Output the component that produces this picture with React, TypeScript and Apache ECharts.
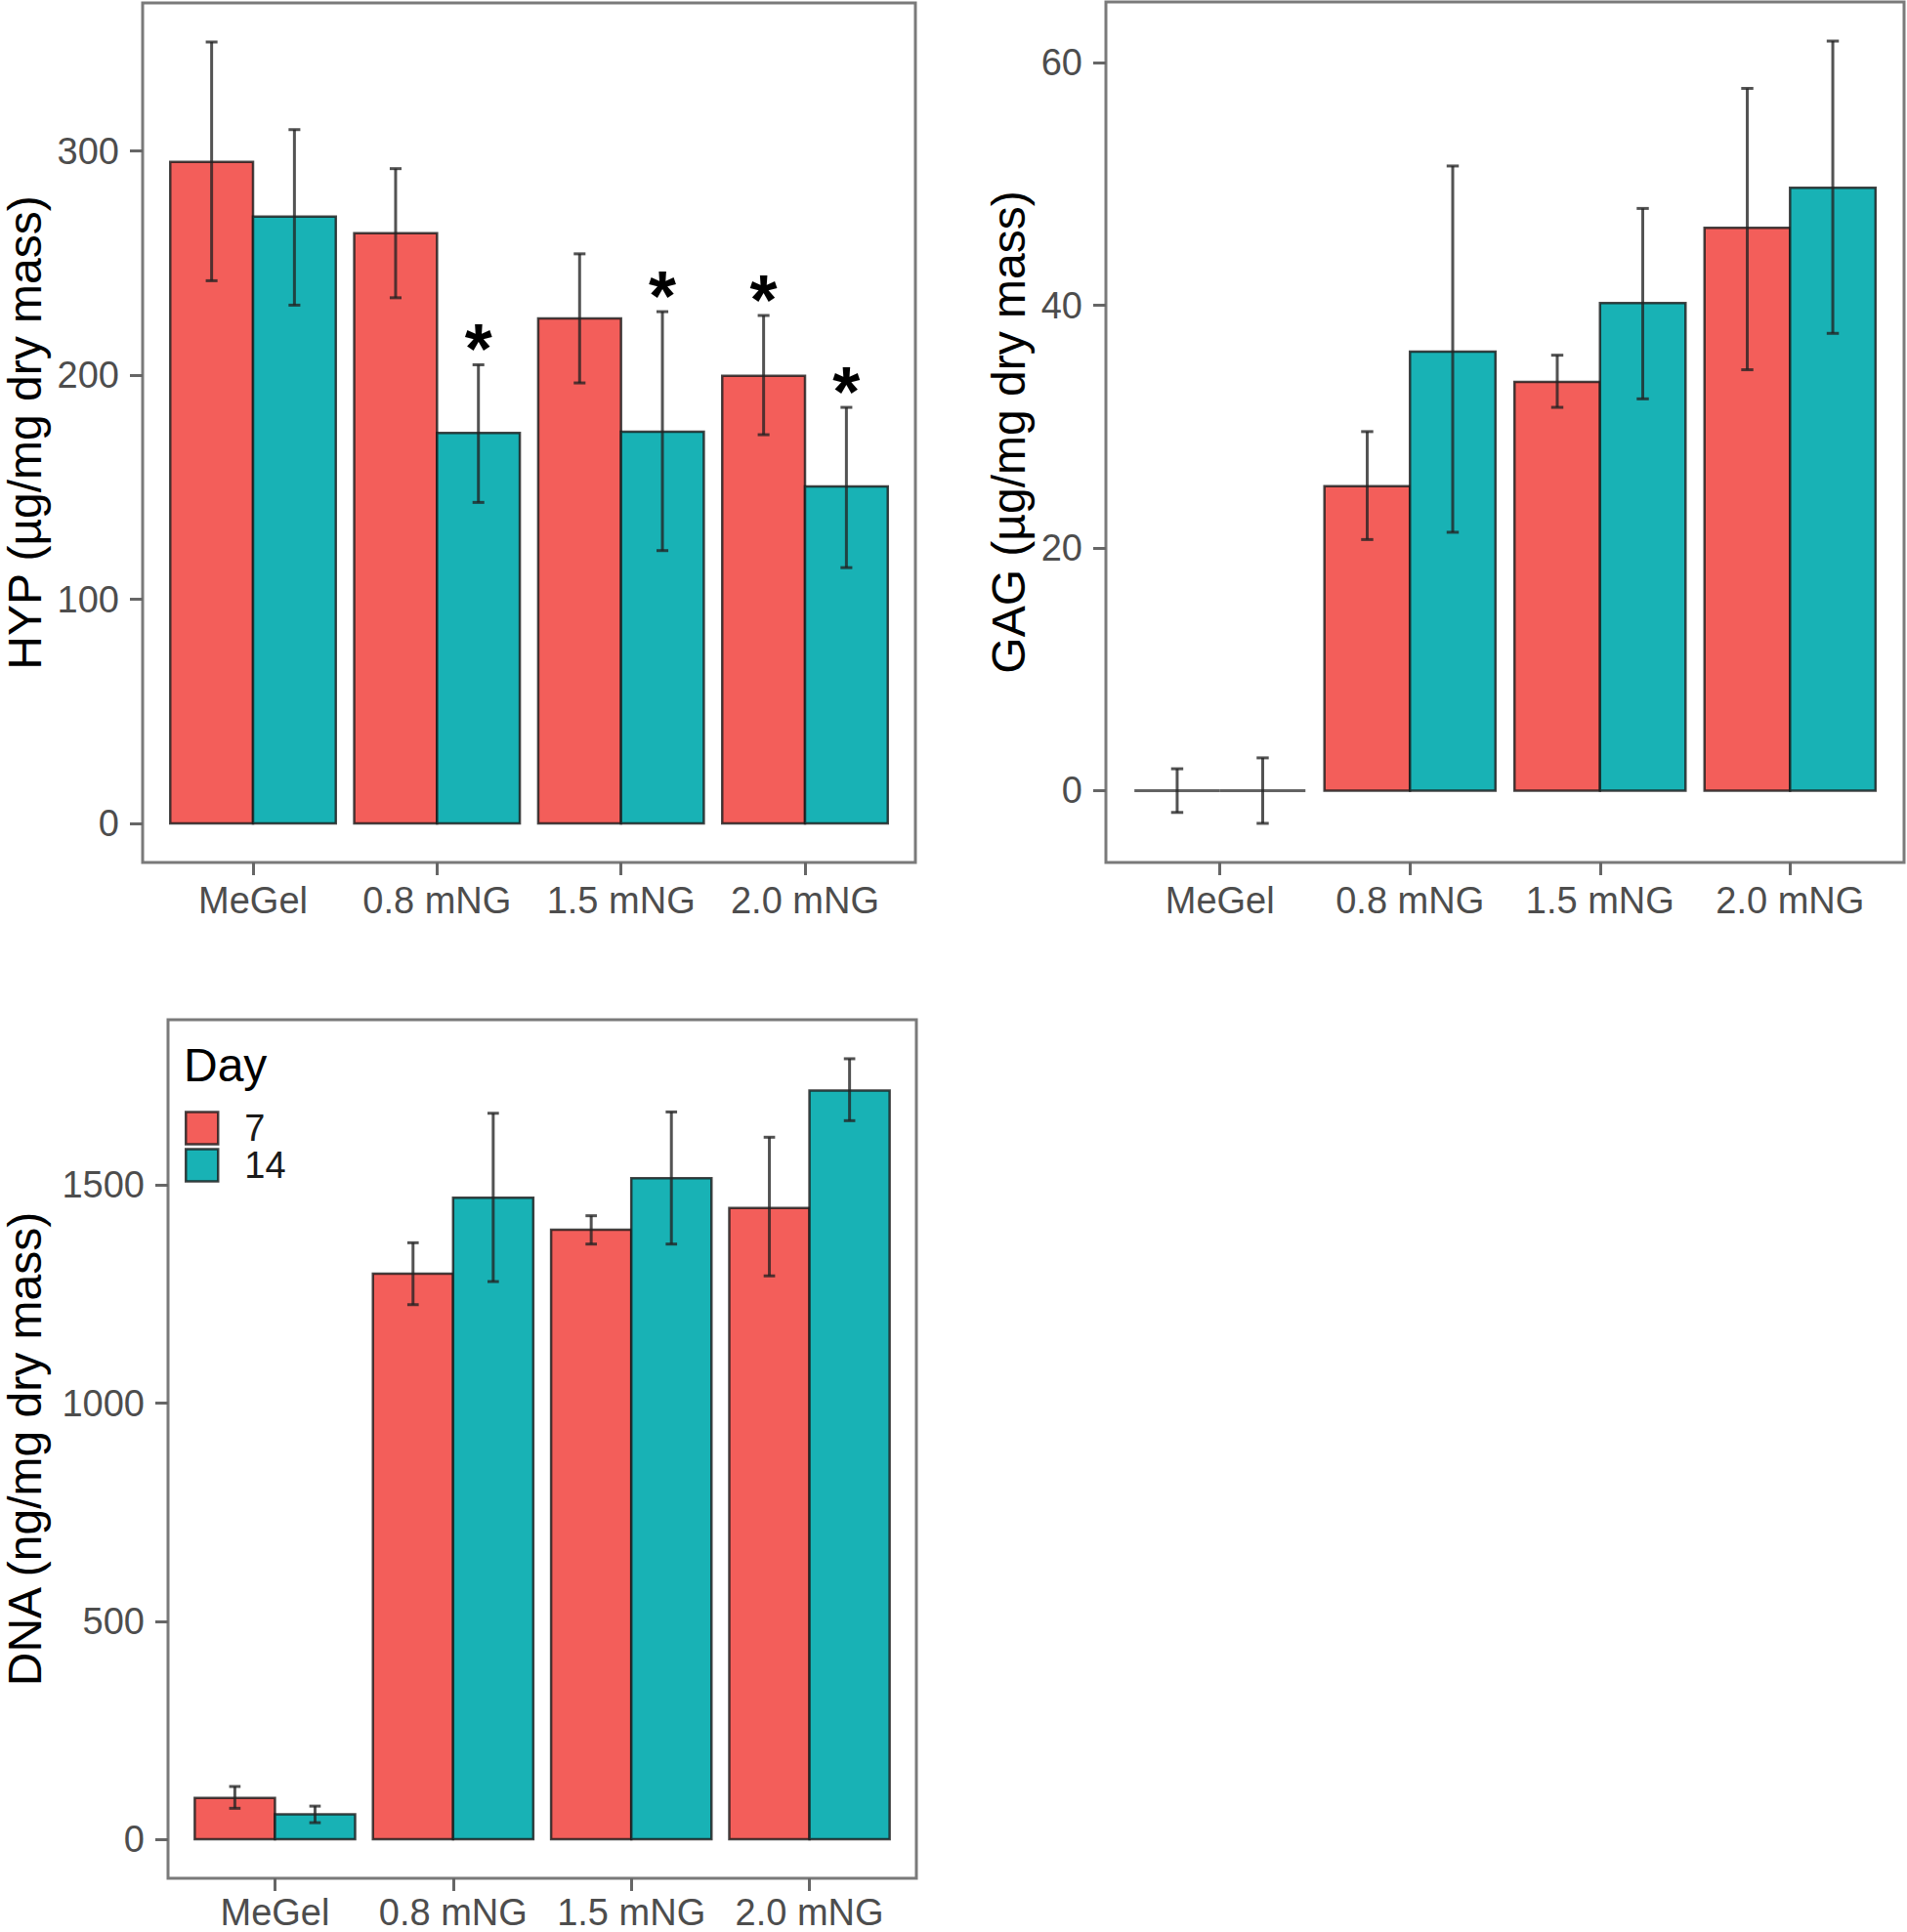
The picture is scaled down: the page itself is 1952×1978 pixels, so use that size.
import React, { useEffect, useRef } from "react";
import * as echarts from "echarts";

const categories = ["MeGel", "0.8 mNG", "1.5 mNG", "2.0 mNG"];

// HYP (µg/mg dry mass)
const hyp7 = [295.1, 263.3, 225.3, 199.7];
const hyp7Low = [242.1, 234.5, 196.5, 173.4];
const hyp7High = [348.6, 292.1, 254.1, 226.6];
const hyp14 = [270.7, 174.2, 174.7, 150.3];
const hyp14Low = [231.2, 143.2, 121.7, 114.1];
const hyp14High = [309.5, 204.6, 228.3, 185.6];
const hypSig7 = [false, false, false, true];
const hypSig14 = [false, true, true, true];
const hypTicks = [0, 100, 200, 300];

// GAG (µg/mg dry mass)
const gag7 = [0, 25.1, 33.7, 46.4];
const gag7Low = [-1.8, 20.7, 31.6, 34.7];
const gag7High = [1.8, 29.6, 35.9, 57.9];
const gag14 = [0, 36.2, 40.2, 49.7];
const gag14Low = [-2.7, 21.3, 32.3, 37.7];
const gag14High = [2.7, 51.5, 48.0, 61.8];
const gagTicks = [0, 20, 40, 60];

// DNA (ng/mg dry mass)
const dna7 = [95, 1297, 1398, 1448];
const dna7Low = [71, 1226, 1365, 1292];
const dna7High = [121, 1368, 1430, 1610];
const dna14 = [57, 1471, 1516, 1717];
const dna14Low = [38, 1279, 1365, 1648];
const dna14High = [76, 1665, 1668, 1790];
const dnaTicks = [0, 500, 1000, 1500];

const dayNames = ["7", "14"];

const RED = "#F35E5A";
const TEAL = "#18B2B5";
const BAR_BORDER = "rgba(25,25,25,0.8)";
const ERR = "rgba(35,35,35,0.78)";
const FONT = "'Liberation Sans', Arial, Helvetica, sans-serif";
const HALF = 0.225;
const CAP = 0.032;

function makeRender(offset: number, color: string, sig: boolean[] | null) {
  return (params: any, api: any) => {
    const x = api.value(0) + offset;
    const v = api.value(1);
    const lo = api.value(2);
    const hi = api.value(3);
    const pL = api.coord([x - HALF, v]);
    const pR = api.coord([x + HALF, v]);
    const p0 = api.coord([x - HALF, 0]);
    const children: any[] = [];
    if (v !== 0) {
      children.push({
        type: "rect",
        shape: {
          x: pL[0],
          y: Math.min(pL[1], p0[1]),
          width: pR[0] - pL[0],
          height: Math.abs(p0[1] - pL[1]),
        },
        style: { fill: color, stroke: BAR_BORDER, lineWidth: 2.5 },
      });
    } else {
      children.push({
        type: "line",
        shape: { x1: pL[0], y1: p0[1], x2: pR[0], y2: p0[1] },
        style: { stroke: "rgba(60,60,60,0.8)", lineWidth: 3 },
      });
    }
    const a = api.coord([x, lo]);
    const b = api.coord([x, hi]);
    const capPx = api.coord([x + CAP, 0])[0] - api.coord([x, 0])[0];
    children.push({
      type: "line",
      shape: { x1: a[0], y1: a[1], x2: b[0], y2: b[1] },
      style: { stroke: ERR, lineWidth: 3 },
    });
    children.push({
      type: "line",
      shape: { x1: a[0] - capPx, y1: a[1], x2: a[0] + capPx, y2: a[1] },
      style: { stroke: ERR, lineWidth: 3 },
    });
    children.push({
      type: "line",
      shape: { x1: b[0] - capPx, y1: b[1], x2: b[0] + capPx, y2: b[1] },
      style: { stroke: ERR, lineWidth: 3 },
    });
    if (sig && sig[params.dataIndex]) {
      children.push({
        type: "text",
        style: {
          text: "*",
          x: b[0],
          y: b[1] - 16,
          fontSize: 72,
          fontWeight: "bold",
          fontFamily: FONT,
          fill: "#000",
          align: "center",
          verticalAlign: "middle",
        },
      });
    }
    return { type: "group", children };
  };
}

function rows(vals: number[], low: number[], high: number[]) {
  return vals.map((v, i) => [i, v, low[i], high[i]]);
}

function yRange(lows: number[][], highs: number[][]) {
  const lo = Math.min(0, ...lows.flat());
  const hi = Math.max(...highs.flat());
  const r = hi - lo;
  return { min: lo - 0.05 * r, max: hi + 0.05 * r };
}

export default function App() {
  const ref = useRef<HTMLDivElement>(null);
  useEffect(() => {
    document.body.style.margin = "0";
    if (!ref.current) return;
    const chart = echarts.init(ref.current, null, { renderer: "svg" });

    const grids = [
      { left: 144.5, top: 3, width: 792.5, height: 880 },
      { left: 1132, top: 2, width: 817, height: 881 },
      { left: 167.5, top: 1044, width: 770.5, height: 879 },
    ].map((g) => ({
      ...g,
      show: true,
      borderColor: "#7a7a7a",
      borderWidth: 3,
      backgroundColor: "#fff",
      containLabel: false,
    }));

    const ranges = [
      yRange([hyp7Low, hyp14Low], [hyp7High, hyp14High]),
      yRange([gag7Low, gag14Low], [gag7High, gag14High]),
      yRange([dna7Low, dna14Low], [dna7High, dna14High]),
    ];
    const ticks = [hypTicks, gagTicks, dnaTicks];
    const names = [
      "HYP (µg/mg dry mass)",
      "GAG (µg/mg dry mass)",
      "DNA (ng/mg dry mass)",
    ];
    const nameGaps = [97, 76, 123];
    const xMargins = [20, 20, 16];

    const xAxes = [0, 1, 2].map((i) => ({
      type: "value",
      gridIndex: i,
      min: -0.6,
      max: 3.6,
      axisLine: { show: false, onZero: false },
      splitLine: { show: false },
      axisTick: {
        show: true,
        length: 13,
        customValues: [0, 1, 2, 3],
        lineStyle: { color: "#666", width: 3 },
      },
      axisLabel: {
        customValues: [0, 1, 2, 3],
        formatter: (v: number) => categories[Math.round(v)] ?? "",
        fontSize: 38,
        lineHeight: 38,
        color: "#4d4d4d",
        fontFamily: FONT,
        margin: xMargins[i],
      },
    }));

    const yAxes = [0, 1, 2].map((i) => ({
      type: "value",
      gridIndex: i,
      min: ranges[i].min,
      max: ranges[i].max,
      name: names[i],
      nameLocation: "middle",
      nameGap: nameGaps[i],
      nameTextStyle: { fontSize: 48, color: "#000", fontFamily: FONT },
      axisLine: { show: false, onZero: false },
      splitLine: { show: false },
      axisTick: {
        show: true,
        length: 13,
        customValues: ticks[i],
        lineStyle: { color: "#666", width: 3 },
      },
      axisLabel: {
        customValues: ticks[i],
        formatter: (v: number) => String(v),
        fontSize: 38,
        color: "#4d4d4d",
        fontFamily: FONT,
        margin: 24,
      },
    }));

    const panelData = [
      [rows(hyp7, hyp7Low, hyp7High), rows(hyp14, hyp14Low, hyp14High)],
      [rows(gag7, gag7Low, gag7High), rows(gag14, gag14Low, gag14High)],
      [rows(dna7, dna7Low, dna7High), rows(dna14, dna14Low, dna14High)],
    ];
    const sigs = [[hypSig7, hypSig14], [null, null], [null, null]];
    const colors = [RED, TEAL];

    const series: any[] = [];
    [0, 1, 2].forEach((p) => {
      [0, 1].forEach((d) => {
        series.push({
          type: "custom",
          name: dayNames[d],
          xAxisIndex: p,
          yAxisIndex: p,
          itemStyle: { color: colors[d] },
          encode: { x: 0, y: 1 },
          data: panelData[p][d],
          renderItem: makeRender(d === 0 ? -HALF : HALF, colors[d], sigs[p][d]),
          clip: false,
          silent: true,
        });
      });
    });

    chart.setOption({
      animation: false,
      backgroundColor: "#fff",
      title: {
        text: "Day",
        left: 183,
        top: 1061,
        textStyle: { fontSize: 48, fontWeight: "normal", color: "#000", fontFamily: FONT },
      },
      legend: {
        data: dayNames.map((n, i) => ({
          name: n,
          icon: "rect",
          itemStyle: { color: colors[i], borderColor: BAR_BORDER, borderWidth: 2.5 },
        })),
        orient: "vertical",
        left: 189,
        top: 1136,
        padding: 0,
        itemWidth: 33,
        itemHeight: 33,
        itemGap: 0,
        selectedMode: false,
        textStyle: { fontSize: 38, color: "#1a1a1a", fontFamily: FONT, padding: [0, 0, 0, 22] },
      },
      grid: grids,
      xAxis: xAxes,
      yAxis: yAxes,
      series,
    });
    return () => chart.dispose();
  }, []);
  return <div ref={ref} style={{ width: 1952, height: 1978 }} />;
}
